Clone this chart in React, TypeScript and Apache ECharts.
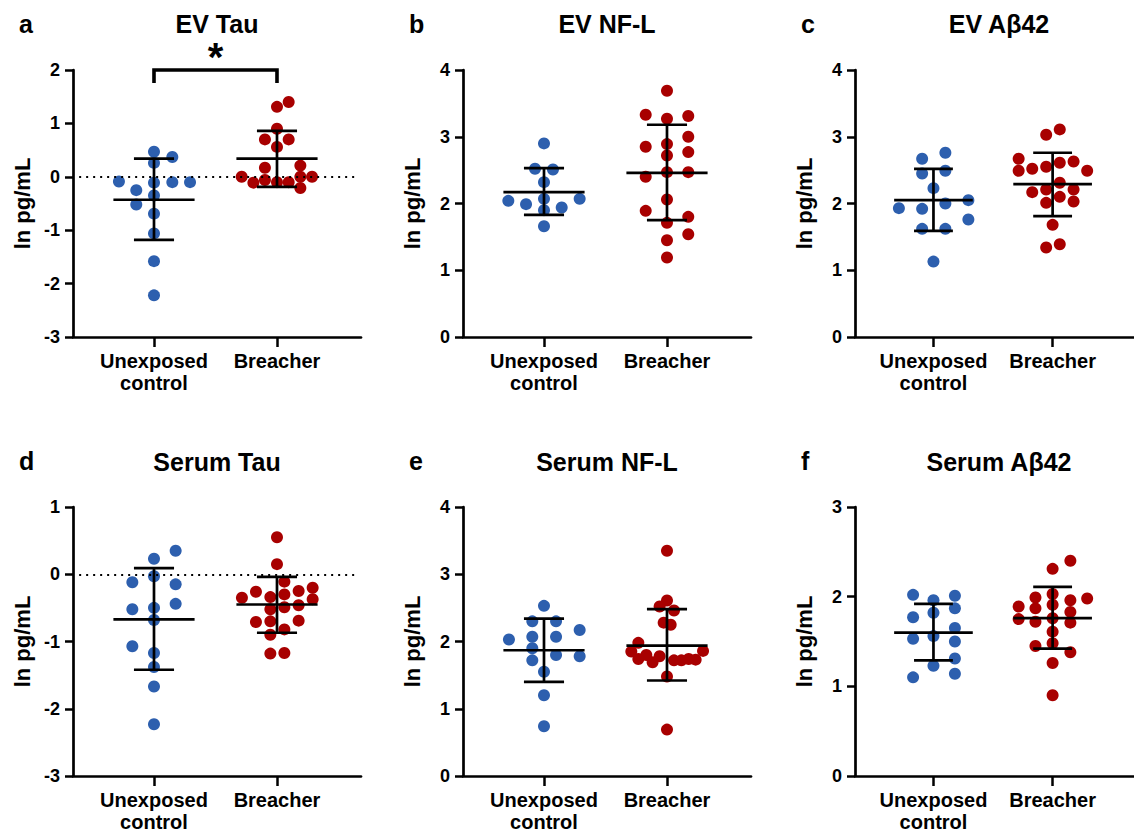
import React, { useEffect, useRef } from "react";
import * as echarts from "echarts";

// ---------- data ----------
const groupLabels = ["Unexposed\ncontrol", "Breacher"];
const panelLetters = ["a", "b", "c", "d", "e", "f"];
const panelTitles = ["EV Tau", "EV NF-L", "EV Aβ42", "Serum Tau", "Serum NF-L", "Serum Aβ42"];
const yMins = [-3, 0, 0, -3, 0, 0];
const yMaxs = [2, 4, 4, 1, 4, 3];

// EV Tau
const evTauCtrl = [0.47, 0.37, 0.26, -0.09, -0.11, -0.1, -0.1, -0.25, -0.35, -0.52, -0.69, -1.06, -1.58, -2.22];
const evTauCtrlJit = [0, 0.149, 0, -0.285, 0, 0.149, 0.293, -0.144, 0, -0.144, 0, 0, 0, 0];
const evTauBr = [1.4, 1.31, 0.9, 0.7, 0.7, 0.56, 0.17, 0.21, 0.0, 0.0, 0.0, -0.06, -0.11, -0.1, -0.1, -0.21];
const evTauBrJit = [0.095, 0, 0, -0.098, 0.095, 0, -0.098, 0.19, -0.287, 0.19, 0.285, -0.098, -0.192, 0, 0.095, 0.19];
const evTauStats = [[-0.43, -1.18, 0.34], [0.34, -0.19, 0.86]]; // [mean, low, high]

// EV NF-L
const evNflCtrl = [2.9, 2.52, 2.51, 2.32, 2.07, 2.04, 1.99, 2.07, 1.9, 1.94, 1.66];
const evNflCtrlJit = [0, -0.073, 0.073, 0, 0, -0.29, -0.146, 0.29, 0, 0.144, 0];
const evNflBr = [3.69, 3.33, 3.27, 3.31, 3.0, 2.85, 2.89, 2.72, 2.77, 2.47, 2.47, 2.4, 2.06, 1.89, 1.8, 1.71, 1.54, 1.45, 1.19];
const evNflBrJit = [0, -0.173, 0, 0.173, 0.173, -0.173, 0, 0, 0.173, 0, 0.173, -0.173, 0, -0.173, 0.173, 0, 0.173, 0, 0];
const evNflStats = [[2.17, 1.83, 2.53], [2.46, 1.75, 3.18]];

// EV Abeta42
const evAbCtrl = [2.76, 2.67, 2.45, 2.49, 2.23, 1.93, 1.92, 2.0, 2.05, 1.76, 1.62, 1.62, 1.13];
const evAbCtrlJit = [0.1, -0.095, -0.095, 0.1, 0, -0.29, -0.095, 0.1, 0.293, 0.293, -0.095, 0.1, 0];
const evAbBr = [3.11, 3.03, 2.67, 2.49, 2.52, 2.55, 2.61, 2.63, 2.49, 2.31, 2.21, 2.17, 2.21, 2.1, 2.01, 2.03, 1.68, 1.34, 1.39];
const evAbBrJit = [0.06, -0.054, -0.285, -0.285, -0.171, -0.054, 0.06, 0.176, 0.29, 0.06, -0.054, -0.171, 0.176, 0.06, -0.054, 0.176, 0, -0.054, 0.06];
const evAbStats = [[2.05, 1.59, 2.52], [2.29, 1.81, 2.76]];

// Serum Tau
const srTauCtrl = [0.35, 0.23, -0.03, -0.12, -0.15, -0.44, -0.52, -0.5, -0.68, -1.07, -1.17, -1.38, -1.67, -2.23];
const srTauCtrlJit = [0.176, 0, 0, -0.176, 0.176, 0.176, -0.176, 0, 0, -0.176, 0, 0, 0, 0];
const srTauBr = [0.55, 0.15, -0.11, -0.35, -0.26, -0.34, -0.3, -0.25, -0.2, -0.37, -0.52, -0.49, -0.46, -0.71, -0.7, -0.69, -0.82, -0.9, -1.18, -1.17];
const srTauBrJit = [0, 0, 0.06, -0.285, -0.171, -0.054, 0.06, 0.176, 0.29, 0.29, -0.054, 0.06, 0.176, -0.171, -0.054, 0.176, 0.06, -0.054, -0.054, 0.06];
const srTauStats = [[-0.67, -1.42, 0.09], [-0.45, -0.87, -0.04]];

// Serum NF-L
const srNflCtrl = [2.53, 2.3, 2.3, 2.17, 2.03, 2.07, 2.07, 1.9, 1.8, 1.78, 1.72, 1.55, 1.2, 0.74];
const srNflCtrlJit = [0, -0.095, 0.098, 0.29, -0.285, -0.095, 0.098, -0.095, 0.098, 0.29, -0.095, 0, 0, 0];
const srNflBr = [3.35, 2.61, 2.52, 2.46, 2.28, 2.25, 1.98, 1.85, 1.8, 1.78, 1.86, 1.74, 1.69, 1.72, 1.72, 1.74, 1.73, 1.48, 0.69];
const srNflBrJit = [0, 0, -0.06, 0.057, -0.027, 0.03, -0.233, -0.29, -0.168, -0.06, 0.293, -0.233, -0.117, 0.057, 0.117, 0.176, 0.233, 0, 0];
const srNflStats = [[1.87, 1.4, 2.34], [1.94, 1.42, 2.48]];

// Serum Abeta42
const srAbCtrl = [2.02, 2.01, 1.96, 1.87, 1.82, 1.77, 1.65, 1.56, 1.53, 1.5, 1.31, 1.23, 1.14, 1.1];
const srAbCtrlJit = [-0.171, 0.18, 0, 0.18, 0, -0.171, 0.18, 0, -0.171, 0.18, 0.18, 0, 0.18, -0.171];
const srAbBr = [2.4, 2.31, 2.03, 1.99, 1.98, 1.96, 1.89, 1.87, 1.91, 1.83, 1.75, 1.72, 1.76, 1.71, 1.61, 1.48, 1.45, 1.38, 1.26, 0.9];
const srAbBrJit = [0.149, 0, 0, -0.144, 0.29, 0.149, -0.285, -0.144, 0, 0.149, -0.285, -0.144, 0, 0.149, 0, 0, -0.144, 0.149, 0, 0];
const srAbStats = [[1.6, 1.29, 1.92], [1.76, 1.42, 2.11]];

const ctrlValues = [evTauCtrl, evNflCtrl, evAbCtrl, srTauCtrl, srNflCtrl, srAbCtrl];
const ctrlJitter = [evTauCtrlJit, evNflCtrlJit, evAbCtrlJit, srTauCtrlJit, srNflCtrlJit, srAbCtrlJit];
const brValues = [evTauBr, evNflBr, evAbBr, srTauBr, srNflBr, srAbBr];
const brJitter = [evTauBrJit, evNflBrJit, evAbBrJit, srTauBrJit, srNflBrJit, srAbBrJit];
const groupStats = [evTauStats, evNflStats, evAbStats, srTauStats, srNflStats, srAbStats];
const zeroLinePanels = [0, 3];
const significance = [{ panel: 0, from: 0, to: 1, mark: "*" }];

// ---------- layout / style ----------
const FONT = "'Liberation Sans', Arial, Helvetica, sans-serif";
const BLUE = "#2d5fae";
const RED = "#a80000";
const colLefts = [73, 463, 855];
const rowTops = [70, 507];
const rowHeights = [267, 269];
const GRID_W = 288;
const X_MIN = -0.6585;
const X_MAX = 1.683;
const MEAN_HALF = 0.33;
const CAP_HALF = 0.163;

function buildOption() {
  const grid: any[] = [];
  const xAxis: any[] = [];
  const yAxis: any[] = [];
  const series: any[] = [];
  const graphic: any[] = [];

  for (let p = 0; p < 6; p++) {
    const col = p % 3;
    const row = Math.floor(p / 3);
    const left = colLefts[col];
    const top = rowTops[row];
    grid.push({ left, top, width: GRID_W, height: rowHeights[row], containLabel: false });
    xAxis.push({
      type: "value",
      gridIndex: p,
      min: X_MIN,
      max: X_MAX,
      splitLine: { show: false },
      axisLine: { onZero: false, lineStyle: { color: "#000", width: 2.7 } },
      axisTick: { customValues: [0, 1], length: 10, lineStyle: { color: "#000", width: 2.5 } },
      axisLabel: {
        customValues: [0, 1],
        formatter: (v: number) => (Math.round(v) === 0 ? groupLabels[0] : groupLabels[1]),
        fontFamily: FONT,
        fontWeight: "bold",
        fontSize: 20,
        lineHeight: 22,
        color: "#000",
        margin: 13,
      },
    });
    yAxis.push({
      type: "value",
      gridIndex: p,
      min: yMins[p],
      max: yMaxs[p],
      interval: 1,
      name: "ln pg/mL",
      nameLocation: "middle",
      nameRotate: 90,
      nameGap: 40,
      nameTextStyle: { fontFamily: FONT, fontWeight: "bold", fontSize: 22, color: "#000" },
      splitLine: { show: false },
      axisLine: { show: true, onZero: false, lineStyle: { color: "#000", width: 2.7 } },
      axisTick: { show: true, length: 8, lineStyle: { color: "#000", width: 2.5 } },
      axisLabel: { fontFamily: FONT, fontWeight: "bold", fontSize: 18, color: "#000", margin: 13 },
    });

    if (zeroLinePanels.includes(p)) {
      series.push({
        type: "line",
        xAxisIndex: p,
        yAxisIndex: p,
        data: [],
        z: 1,
        markLine: {
          silent: true,
          symbol: "none",
          label: { show: false },
          lineStyle: { color: "#000", width: 2, type: [2, 5] },
          data: [[{ coord: [X_MIN + 0.05, 0] }, { coord: [X_MAX - 0.04, 0] }]],
        },
      });
    }

    series.push({
      type: "scatter",
      xAxisIndex: p,
      yAxisIndex: p,
      symbol: "circle",
      symbolSize: 12,
      z: 2,
      itemStyle: { color: BLUE, opacity: 1 },
      data: ctrlValues[p].map((v, i) => [0 + ctrlJitter[p][i], v]),
    });
    series.push({
      type: "scatter",
      xAxisIndex: p,
      yAxisIndex: p,
      symbol: "circle",
      symbolSize: 12,
      z: 2,
      itemStyle: { color: RED, opacity: 1 },
      data: brValues[p].map((v, i) => [1 + brJitter[p][i], v]),
    });
    series.push({
      type: "custom",
      xAxisIndex: p,
      yAxisIndex: p,
      z: 3,
      clip: false,
      data: groupStats[p].map((s, g) => [g, s[0], s[1], s[2]]),
      renderItem: (params: any, api: any) => {
        const x = api.value(0);
        const m = api.value(1);
        const lo = api.value(2);
        const hi = api.value(3);
        const st = { stroke: "#000", lineWidth: 2.7 };
        const seg = (a: number[], b: number[]) => {
          const p1 = api.coord(a);
          const p2 = api.coord(b);
          return { type: "line", shape: { x1: p1[0], y1: p1[1], x2: p2[0], y2: p2[1] }, style: st };
        };
        return {
          type: "group",
          children: [
            seg([x, lo], [x, hi]),
            seg([x - MEAN_HALF, m], [x + MEAN_HALF, m]),
            seg([x - CAP_HALF, lo], [x + CAP_HALF, lo]),
            seg([x - CAP_HALF, hi], [x + CAP_HALF, hi]),
          ],
        };
      },
    });

    significance
      .filter((s) => s.panel === p)
      .forEach((s) => {
        series.push({
          type: "custom",
          xAxisIndex: p,
          yAxisIndex: p,
          z: 4,
          clip: false,
          data: [[s.from, s.to, yMaxs[p]]],
          renderItem: (params: any, api: any) => {
            const a = api.coord([api.value(0), api.value(2)]);
            const b = api.coord([api.value(1), api.value(2)]);
            const drop = 13;
            return {
              type: "group",
              children: [
                {
                  type: "polyline",
                  shape: { points: [[a[0], a[1] + drop], [a[0], a[1]], [b[0], b[1]], [b[0], b[1] + drop]] },
                  style: { stroke: "#000", lineWidth: 3.6, fill: "none" },
                },
                {
                  type: "text",
                  x: (a[0] + b[0]) / 2,
                  y: a[1] - 13,
                  style: {
                    text: s.mark,
                    fontFamily: FONT,
                    fontWeight: "bold",
                    fontSize: 40,
                    fill: "#000",
                    align: "center",
                    verticalAlign: "middle",
                  },
                },
              ],
            };
          },
        });
      });

    const titleY = row === 0 ? 24 : 462;
    graphic.push({
      type: "text",
      x: left + GRID_W / 2,
      y: titleY,
      style: {
        text: panelTitles[p],
        fontFamily: FONT,
        fontWeight: "bold",
        fontSize: 25,
        fill: "#000",
        align: "center",
        verticalAlign: "middle",
      },
    });
    graphic.push({
      type: "text",
      x: [19, 409, 801][col],
      y: row === 0 ? 24 : 461,
      style: {
        text: panelLetters[p],
        fontFamily: FONT,
        fontWeight: "bold",
        fontSize: 25,
        fill: "#000",
        align: "left",
        verticalAlign: "middle",
      },
    });
  }

  return {
    animation: false,
    backgroundColor: "#fff",
    grid,
    xAxis,
    yAxis,
    series,
    graphic,
  };
}

export default function App() {
  const ref = useRef<HTMLDivElement>(null);
  useEffect(() => {
    if (!ref.current) return;
    const chart = echarts.init(ref.current, null, { renderer: "svg" });
    chart.setOption(buildOption() as any);
    return () => chart.dispose();
  }, []);
  return (
    <div
      ref={ref}
      style={{ position: "absolute", left: 0, top: 0, width: 1134, height: 834, background: "#fff" }}
    />
  );
}
